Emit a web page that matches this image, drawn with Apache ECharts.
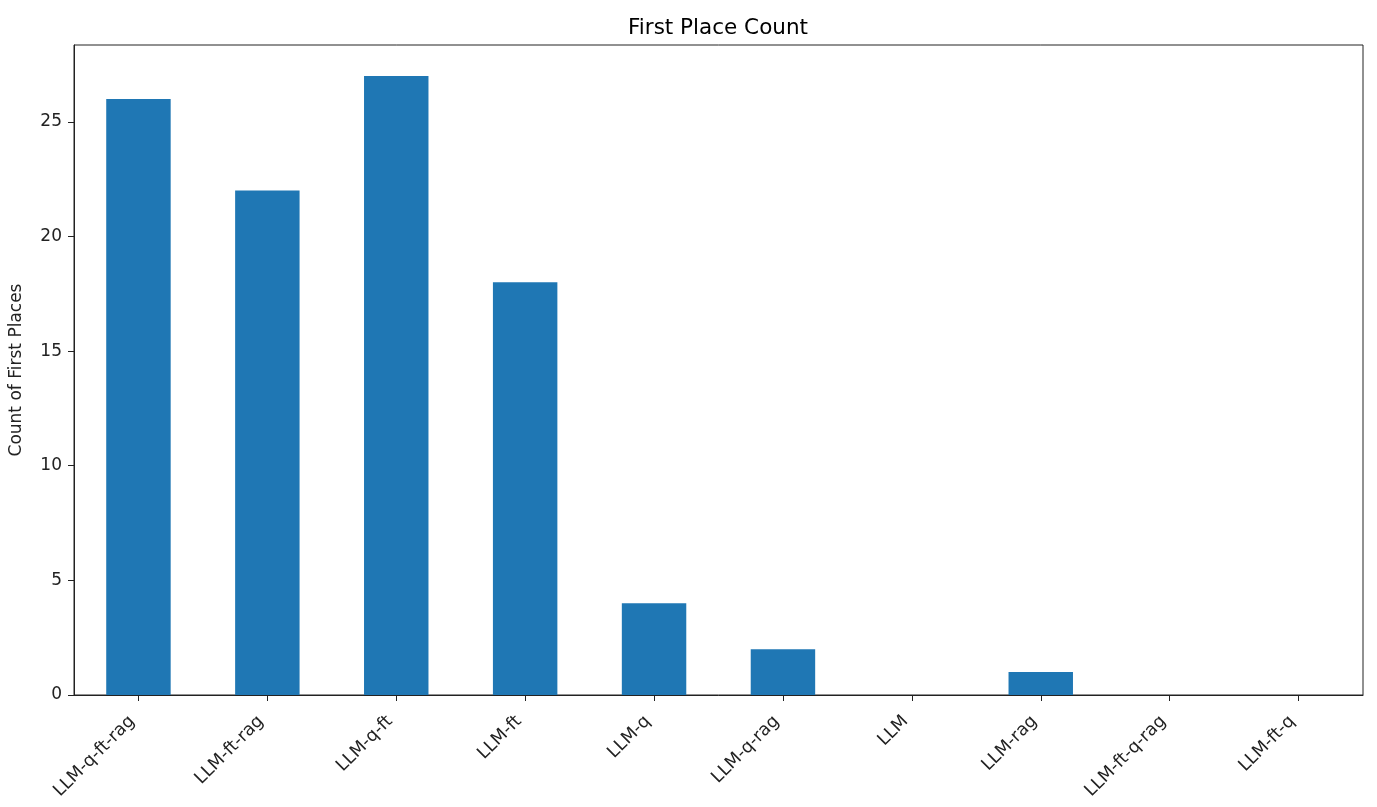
<!DOCTYPE html>
<html>
<head>
<meta charset="utf-8">
<script src="https://cdn.jsdelivr.net/npm/echarts@6/dist/echarts.min.js"></script>
<style>
  html, body { margin: 0; padding: 0; background: #fff; }
  #chart { width: 1377px; height: 807px; }
</style>
</head>
<body>
<div id="chart"></div>
<script>
// values
const models = ['LLM-q-ft-rag', 'LLM-ft-rag', 'LLM-q-ft', 'LLM-ft', 'LLM-q', 'LLM-q-rag', 'LLM', 'LLM-rag', 'LLM-ft-q-rag', 'LLM-ft-q']
const firstPlaces = [26, 22, 27, 18, 4, 2, 0, 1, 0, 0]

const font = 'DejaVu Sans'
const chart = echarts.init(document.getElementById('chart'))

chart.setOption({
  animation: false,
  textStyle: { fontFamily: font },
  title: {
    text: 'First Place Count',
    left: 713,
    top: 12,
    textAlign: 'center',
    textStyle: { fontFamily: font, fontSize: 21.5, fontWeight: 'normal', color: '#000' }
  },
  grid: {
    left: 74,
    right: 14,
    top: 45,
    bottom: 112,
    show: true,
    borderColor: '#222',
    borderWidth: 1
  },
  xAxis: {
    type: 'category',
    data: models,
    boundaryGap: true,
    axisLine: { lineStyle: { color: '#222' } },
    axisTick: { show: true, alignWithLabel: true, length: 6, lineStyle: { color: '#222', width: 1 } },
    axisLabel: {
      rotate: 45,
      interval: 0,
      color: '#222',
      fontSize: 17.5,
      margin: 30,
      align: 'right',
      verticalAlign: 'bottom'
    }
  },
  yAxis: {
    type: 'value',
    min: 0,
    max: 28.35,
    interval: 5,
    name: 'Count of First Places',
    nameLocation: 'middle',
    nameGap: 49,
    nameTextStyle: { color: '#222', fontSize: 17 },
    axisLine: { show: true, lineStyle: { color: '#222' } },
    axisTick: { show: true, length: 6, lineStyle: { color: '#222', width: 1 } },
    axisLabel: { color: '#222', fontSize: 17, margin: 12, showMaxLabel: false },
    splitLine: { show: false }
  },
  series: [
    {
      type: 'bar',
      data: firstPlaces,
      barWidth: '50%',
      itemStyle: { color: '#1f77b4' }
    }
  ]
})
</script>
</body>
</html>
